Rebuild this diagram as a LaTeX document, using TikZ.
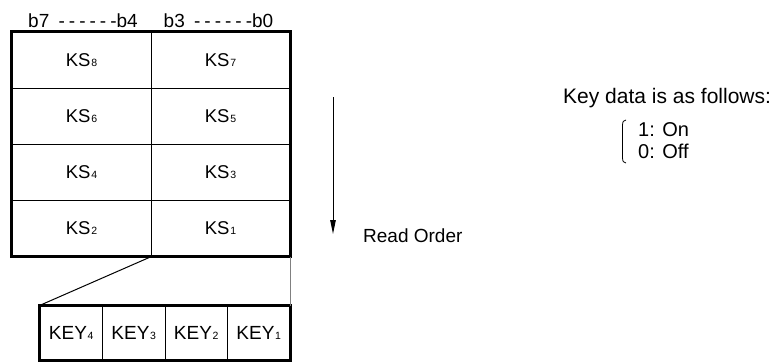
\documentclass[tikz,border=0pt]{standalone}
\usepackage{fontspec}
\setmainfont{Liberation Sans}
\usetikzlibrary{arrows.meta}
\newcommand\sbd[1]{\kern0.8pt{\fontsize{10.5}{10.5}\selectfont #1}}
\newcommand\hyp{-\kern4pt}
\begin{document}
\begin{tikzpicture}[x=1pt,y=-1pt,
  cell/.style={draw, line width=1pt, minimum width=139pt, minimum height=56pt, inner sep=0pt, font=\fontsize{18.5}{20}\selectfont},
  keycell/.style={draw, line width=1pt, minimum width=62.5pt, minimum height=54pt, inner sep=0pt, font=\fontsize{19}{21}\selectfont},
  outer/.style={line width=3pt},
  txt/.style={inner sep=0pt, anchor=west},
  hdr/.style={inner sep=0pt, font=\fontsize{19}{21}\selectfont}]
\useasboundingbox (0,0) rectangle (776,362);
% main table
\node[cell] (ks8) at (81.5,60) {KS\sbd{8}};
\node[cell] (ks7) at (220.5,60) {KS\sbd{7}};
\node[cell] (ks6) at (81.5,116) {KS\sbd{6}};
\node[cell] (ks5) at (220.5,116) {KS\sbd{5}};
\node[cell] (ks4) at (81.5,172) {KS\sbd{4}};
\node[cell] (ks3) at (220.5,172) {KS\sbd{3}};
\node[cell] (ks2) at (81.5,228) {KS\sbd{2}};
\node[cell] (ks1) at (220.5,228) {KS\sbd{1}};
\draw[outer] (ks8.north west) rectangle (ks1.south east);
% headers
\node[hdr] (h1) at (83,21) {b7 \kern4pt\hyp\hyp\hyp\hyp\hyp-b4};
\node[hdr] (h2) at (218.5,21) {b3 \kern4pt\hyp\hyp\hyp\hyp\hyp-b0};
% key row
\node[keycell] (k4) at (71.25,333) {KEY\sbd{4}};
\node[keycell] (k3) at (133.75,333) {KEY\sbd{3}};
\node[keycell] (k2) at (196.25,333) {KEY\sbd{2}};
\node[keycell] (k1) at (258.75,333) {KEY\sbd{1}};
\draw[outer] (k4.north west) rectangle (k1.south east);
% connectors
\draw[line width=1pt] (ks2.south east) -- (k4.north west);
\draw[line width=1pt, gray] (ks1.south east) -- (k1.north east);
% read order arrow
\coordinate (atop) at (333,97);
\coordinate (abot) at (333,234);
\draw[line width=1pt, -{Triangle[length=14pt,width=5.5pt]}] (atop) -- (abot);
\node[txt, font=\fontsize{19}{21}\selectfont] (ro) at (363,236) {Read Order};
% key data legend
\node[txt, font=\fontsize{21}{23}\selectfont] (kd) at (563,98) {Key data is as follows:};
\node[txt, font=\fontsize{20}{22}\selectfont] (on) at (638,130) {1: On};
\node[txt, font=\fontsize{20}{22}\selectfont] (off) at (638,151) {0: Off};
\coordinate (bt) at (626,120);
\coordinate (bb) at (626,163);
\draw[line width=0.8pt] (bt) .. controls (623,121) .. (622.5,125) -- (622.5,158) .. controls (623,162) .. (bb);
\end{tikzpicture}
\end{document}
